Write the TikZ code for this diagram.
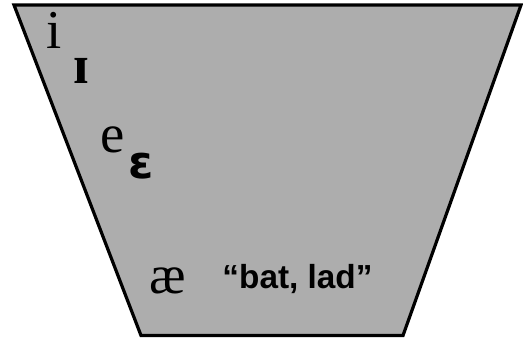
\documentclass[tikz,border=0pt]{standalone}
\usepackage{fontspec}
\setmainfont{Liberation Serif}
\newfontfamily\ipasans{DejaVu Sans}
\newfontfamily\labelsans{Liberation Sans}
\usepackage{xcolor}
\usepackage{tikz}
\definecolor{chartgray}{RGB}{173,173,173}

\tikzset{
  vowel/.style={anchor=base, inner sep=0pt, font=\fontsize{41}{41}\selectfont},
  vowelbold/.style={vowel, font=\fontsize{41}{41}\selectfont\bfseries},
  vowelsans/.style={anchor=base, inner sep=0pt, font=\ipasans\bfseries\fontsize{34}{34}\selectfont},
  example/.style={anchor=base, inner sep=0pt, font=\labelsans\bfseries\fontsize{25}{25}\selectfont}
}

\begin{document}
\begin{tikzpicture}[x=0.75pt,y=-0.75pt]
  \useasboundingbox (0,0) rectangle (523,339);

  % vowel space
  \draw[line width=2.4pt, line join=miter, fill=chartgray]
    (14,5) coordinate (tl) -- (521,5) coordinate (tr)
    -- (403,335.5) coordinate (br) -- (141,335.5) coordinate (bl) -- cycle;

\node (i) at (54,48) [vowel] {i};
\node (smallI) at (81,83) [vowelbold] {ɪ};
\node (e) at (112.5,152) [vowel] {e};
\node (epsilon) at (141,178) [vowelsans] {ɛ};
\node (ae) at (167.5,293) [vowel] {æ};
\node (bat) at (297.5,288) [example] {“bat, lad”};
\end{tikzpicture}
\end{document}
